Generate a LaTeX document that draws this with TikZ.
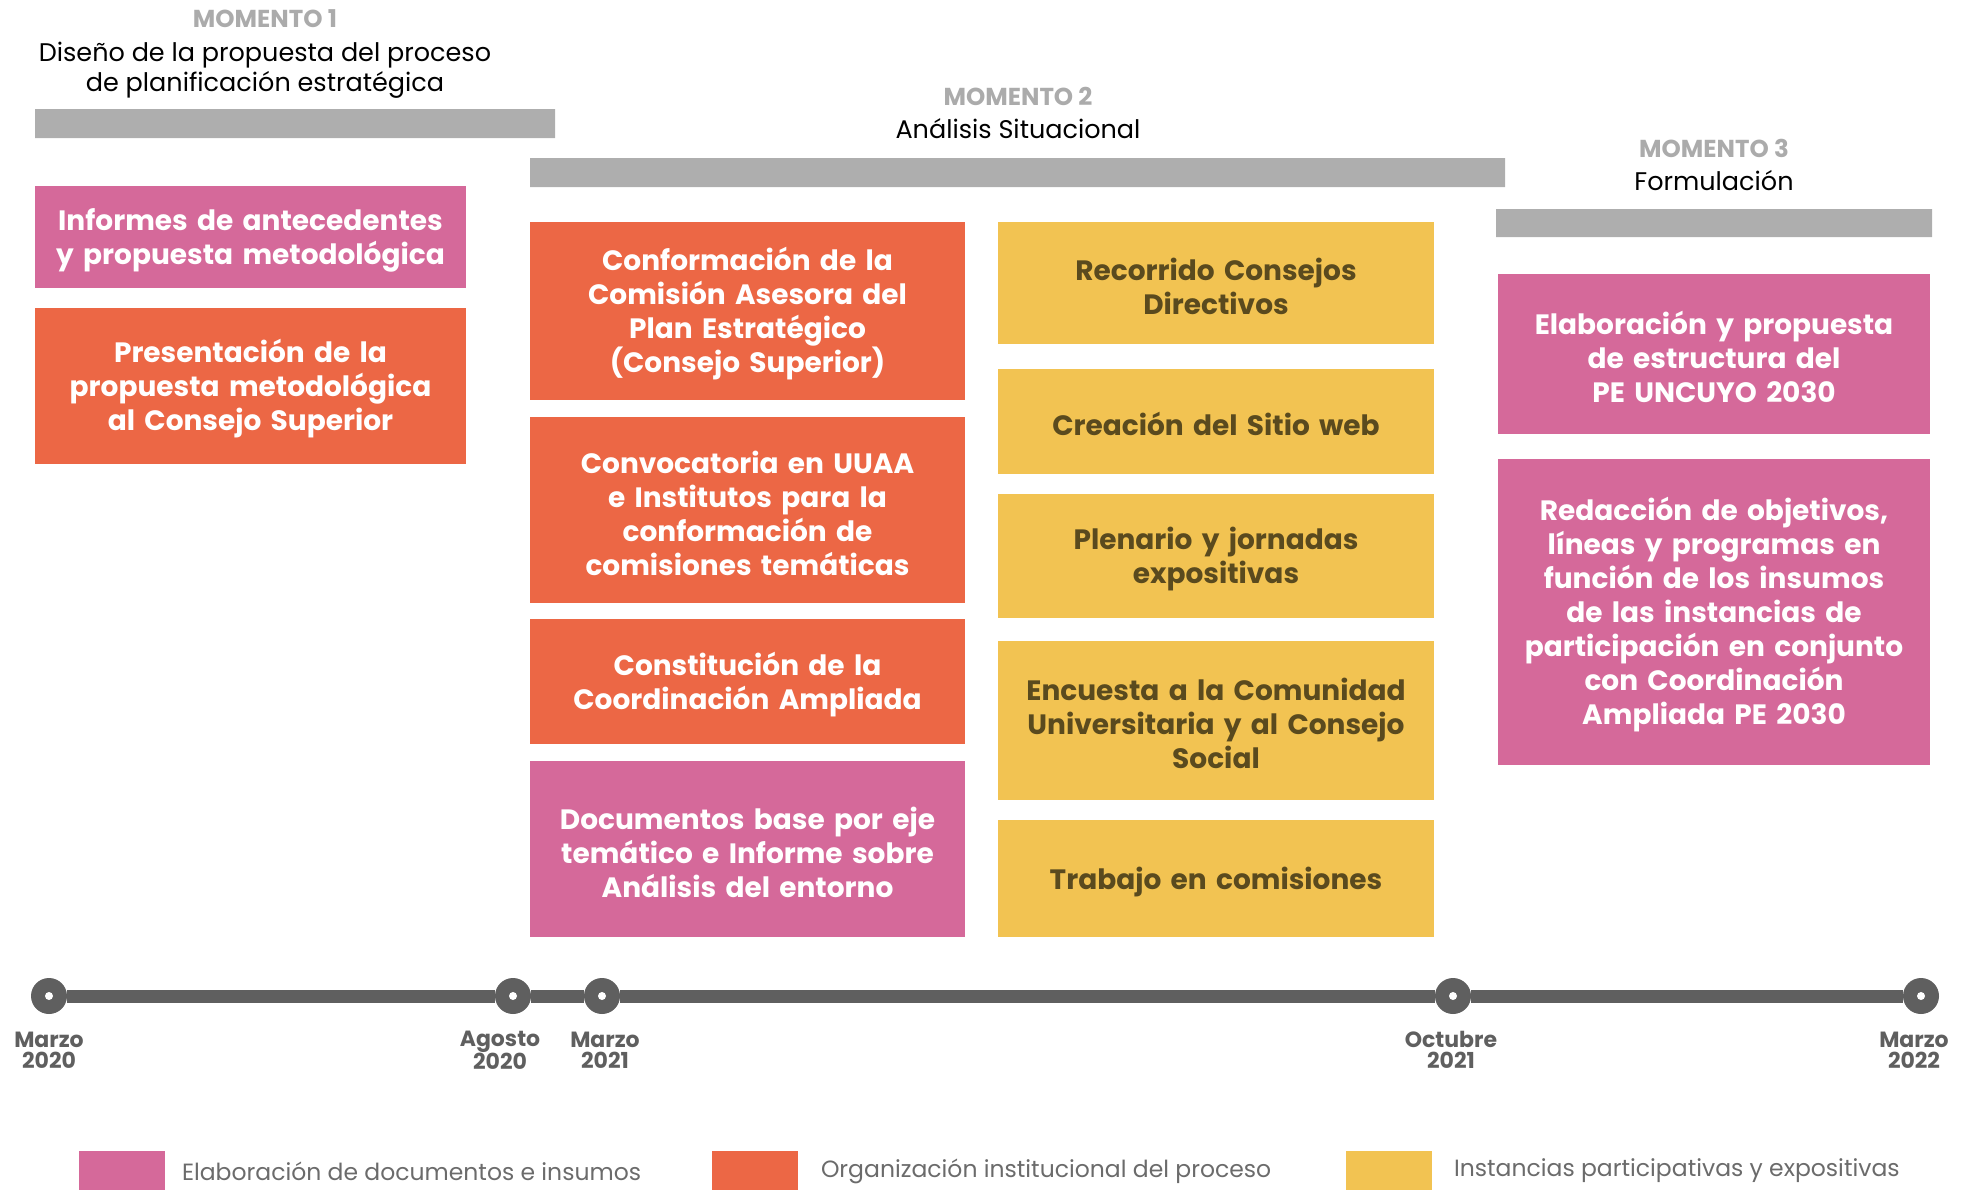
\documentclass[tikz,border=0pt]{standalone}
\usepackage{fontspec}
\setmainfont{Poppins}
\usetikzlibrary{positioning}

\definecolor{docpink}{HTML}{D5699A}
\definecolor{orgorange}{HTML}{EC6745}
\definecolor{partyellow}{HTML}{F2C352}
\definecolor{bargray}{HTML}{AEAEAE}
\definecolor{lblgray}{HTML}{ABABAB}
\definecolor{linegray}{HTML}{5F5F5F}
\definecolor{legendgray}{HTML}{6B6B6B}
\definecolor{yellowtext}{HTML}{5A4A1E}

\begin{document}
\begin{tikzpicture}[x=1pt,y=-1pt,
  every node/.style={inner sep=0pt,outer sep=0pt},
  stagebox/.style={align=center,text width=420pt,
    font=\fontsize{28}{34}\selectfont\bfseries,
    execute at begin node={\vrule width 0pt height 29pt depth 0pt}},
  pinkbox/.style={stagebox,fill=docpink,text=white},
  orangebox/.style={stagebox,fill=orgorange,text=white},
  yellowbox/.style={stagebox,fill=partyellow,text=yellowtext},
  momento/.style={font=\fontsize{24.5}{26}\selectfont\bfseries,text=lblgray},
  momtitle/.style={align=center,font=\fontsize{25.5}{30}\selectfont},
  tick/.style={circle,fill=linegray,minimum size=36pt,
    path picture={\fill[white] (path picture bounding box.center) circle (4pt);}},
  datelbl/.style={align=center,text=linegray,
    font=\fontsize{22}{21}\selectfont\bfseries},
  keysq/.style={minimum width=86pt,minimum height=40pt},
  legendtxt/.style={text=legendgray,font=\fontsize{23.5}{26}\selectfont},
]
\useasboundingbox (0,0) rectangle (1970,1189);

% Momentos
\node[momento] (mom1) at (265,19) {MOMENTO 1};
\node[momtitle] (mom1 title) at (265,70) {Diseño de la propuesta del proceso\\de planificación estratégica};
\node[momento] (mom2) at (1018,96) {MOMENTO 2};
\node[momtitle] (mom2 title) at (1018,129) {Análisis Situacional};
\node[momento] (mom3) at (1714,148) {MOMENTO 3};
\node[momtitle] (mom3 title) at (1714,181) {Formulación};

% Gray bars
\fill[bargray]
  (35,109) rectangle (555,138)
  (530,158) rectangle (1505,187)
  (1496,209) rectangle (1932,237);

% Momento 1
\node[pinkbox,minimum width=431pt,minimum height=102pt] (informes) at (250.5,237)
  {Informes de antecedentes\\y propuesta metodológica};
\node[orangebox,minimum width=431pt,minimum height=156pt] (presentacion) at (250.5,386)
  {Presentación de la\\propuesta metodológica\\al Consejo Superior};

% Momento 2
\node[orangebox,minimum width=435pt,minimum height=178pt] (conformacion) at (747.5,311)
  {Conformación de la\\Comisión Asesora del\\Plan Estratégico\\(Consejo Superior)};
\node[orangebox,minimum width=435pt,minimum height=186pt] (convocatoria) at (747.5,510)
  {Convocatoria en UUAA\\e Institutos para la\\conformación de\\comisiones temáticas};
\node[orangebox,minimum width=435pt,minimum height=125pt] (constitucion) at (747.5,681.5)
  {Constitución de la\\Coordinación Ampliada};
\node[pinkbox,minimum width=435pt,minimum height=176pt] (documentos) at (747.5,849)
  {Documentos base por eje\\temático e Informe sobre\\Análisis del entorno};

\node[yellowbox,minimum width=436pt,minimum height=122pt] (recorrido) at (1216,283)
  {Recorrido Consejos\\Directivos};
\node[yellowbox,minimum width=436pt,minimum height=105pt] (sitio) at (1216,421.5)
  {Creación del Sitio web};
\node[yellowbox,minimum width=436pt,minimum height=124pt] (plenario) at (1216,556)
  {Plenario y jornadas\\expositivas};
\node[yellowbox,minimum width=436pt,minimum height=159pt] (encuesta) at (1216,720.5)
  {Encuesta a la Comunidad\\Universitaria y al Consejo\\Social};
\node[yellowbox,minimum width=436pt,minimum height=117pt] (trabajo) at (1216,878.5)
  {Trabajo en comisiones};

% Momento 3
\node[pinkbox,minimum width=432pt,minimum height=160pt] (elaboracion) at (1714,354)
  {Elaboración y propuesta\\de estructura del\\PE UNCUYO 2030};
\node[pinkbox,minimum width=432pt,minimum height=306pt] (redaccion) at (1714,612)
  {Redacción de objetivos,\\líneas y programas en\\función de los insumos\\de las instancias de\\participación en conjunto\\con Coordinación\\Ampliada PE 2030};

% Timeline
\node[tick] (m2020) at (49,996) {};
\node[tick] (a2020) at (513,996) {};
\node[tick] (m2021) at (602,996) {};
\node[tick] (o2021) at (1453,996) {};
\node[tick] (m2022) at (1921,996) {};
\draw[linegray,line width=13pt]
  (m2020) -- (a2020) -- (m2021) -- (o2021) -- (m2022);

\node[datelbl] (m2020 lbl) at (49,1050) {Marzo\\2020};
\node[datelbl] (a2020 lbl) at (500,1050) {Agosto\\2020};
\node[datelbl] (m2021 lbl) at (605,1050) {Marzo\\2021};
\node[datelbl] (o2021 lbl) at (1451,1050) {Octubre\\2021};
\node[datelbl] (m2022 lbl) at (1914,1050) {Marzo\\2022};

% Legend
\node[keysq,fill=docpink,anchor=north west] (key doc) at (79,1151) {};
\node[legendtxt,right=17pt of key doc] (key doc txt) {Elaboración de documentos e insumos};
\node[keysq,fill=orgorange,anchor=north west] (key org) at (712,1151) {};
\node[legendtxt,right=23pt of key org] (key org txt) {Organización institucional del proceso};
\node[keysq,fill=partyellow,anchor=north west] (key part) at (1346,1151) {};
\node[legendtxt,right=22pt of key part] (key part txt) {Instancias participativas y expositivas};
\end{tikzpicture}
\end{document}
